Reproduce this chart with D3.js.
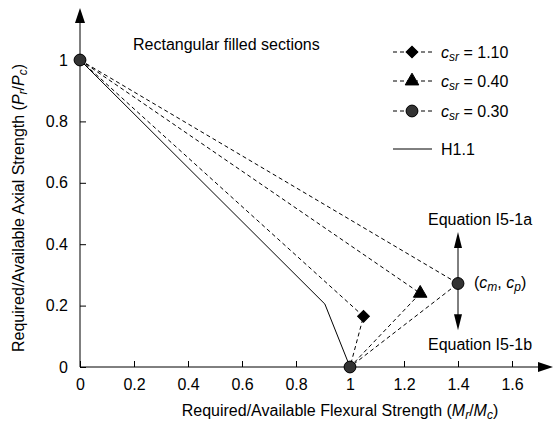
<!DOCTYPE html>
<html><head><meta charset="utf-8">
<script src="https://cdn.jsdelivr.net/npm/d3@7"></script>
<style>body{margin:0;background:#fff}text{font-family:"Liberation Sans",Arial,sans-serif;fill:#000}</style>
</head><body><svg id="chart" width="557" height="430"></svg>
<script>
var xTicks = [0, 0.2, 0.4, 0.6, 0.8, 1, 1.2, 1.4, 1.6];
var yTicks = [0, 0.2, 0.4, 0.6, 0.8, 1];
var origin = [0, 1];
var endPt = [1, 0];
var seriesNames = ["1.10", "0.40", "0.30"];
var seriesPts = [[1.05, 0.165], [1.26, 0.24], [1.40, 0.272]];
var seriesShapes = [d3.symbolSquare, d3.symbolTriangle, d3.symbolCircle];
var h11 = [[0, 1], [0.907, 0.205], [1, 0]];

var svg = d3.select("#chart");
var x = d3.scaleLinear().domain([0, 1]).range([80, 350]);
var y = d3.scaleLinear().domain([0, 1]).range([367, 60]);
var fs = 16, sub = 12;

// axes
var xa = svg.append("g").attr("transform", "translate(0,367)")
  .call(d3.axisBottom(x).tickValues(xTicks).tickSize(-6).tickPadding(12).tickFormat(d => d));
var ya = svg.append("g").attr("transform", "translate(80,0)")
  .call(d3.axisLeft(y).tickValues(yTicks).tickSize(-6).tickPadding(12).tickFormat(d => d));
[xa, ya].forEach(a => { a.select(".domain").remove(); a.selectAll("text").attr("font-size", fs).style("font-family", "Liberation Sans, Arial"); });
svg.append("line").attr("x1", 80).attr("x2", 545).attr("y1", 367).attr("y2", 367).attr("stroke", "#000");
svg.append("line").attr("x1", 80).attr("x2", 80).attr("y1", 367).attr("y2", 16).attr("stroke", "#000");
svg.append("path").attr("d", "M553,367 L538,362 L538,372 Z");
svg.append("path").attr("d", "M80,8 L75,23 L85,23 Z");

var line = d3.line().x(d => x(d[0])).y(d => y(d[1]));
svg.append("path").attr("d", line(h11)).attr("fill", "none").attr("stroke", "#000");
seriesPts.forEach(p => {
  svg.append("path").attr("d", line([origin, p, endPt])).attr("fill", "none")
    .attr("stroke", "#000").attr("stroke-dasharray", "4,3");
});
// arrows at c point
var cp = seriesPts[2];
svg.append("line").attr("x1", x(cp[0])).attr("x2", x(cp[0])).attr("y1", y(0.44) + 12).attr("y2", y(0.12) - 12).attr("stroke", "#000");
svg.append("path").attr("d", `M${x(cp[0])},${y(0.44)} l-4,16 l8,0 Z`);
svg.append("path").attr("d", `M${x(cp[0])},${y(0.12)} l-4,-16 l8,0 Z`);

var sizes = [70, 80, 110];
function marker(g, i, px, py) {
  g.append("path").attr("d", d3.symbol().type(seriesShapes[i]).size(sizes[i])())
    .attr("transform", `translate(${px},${py})` + (i == 0 ? " rotate(45)" : ""))
    .attr("fill", i == 2 ? "#333" : "#000").attr("stroke", "#000");
}
seriesPts.forEach((p, i) => marker(svg, i, x(p[0]), y(p[1])));
marker(svg, 2, x(origin[0]), y(origin[1]));
marker(svg, 2, x(endPt[0]), y(endPt[1]));

// texts
svg.append("text").attr("x", 133).attr("y", 50).attr("font-size", fs).text("Rectangular filled sections");
svg.append("text").attr("x", 428).attr("y", 225).attr("font-size", fs).text("Equation I5-1a");
svg.append("text").attr("x", 428).attr("y", 350).attr("font-size", fs).text("Equation I5-1b");
var cm = svg.append("text").attr("x", 474).attr("y", 288).attr("font-size", fs);
cm.append("tspan").text("(");
cm.append("tspan").attr("font-style", "italic").text("c");
cm.append("tspan").attr("font-style", "italic").attr("font-size", sub).attr("dy", 3).text("m");
cm.append("tspan").attr("dy", -3).text(", ");
cm.append("tspan").attr("font-style", "italic").text("c");
cm.append("tspan").attr("font-style", "italic").attr("font-size", sub).attr("dy", 3).text("p");
cm.append("tspan").attr("dy", -3).text(")");

// legend
var legY = [52, 81, 111];
seriesNames.forEach((n, i) => {
  svg.append("line").attr("x1", 393).attr("x2", 432).attr("y1", legY[i]).attr("y2", legY[i]).attr("stroke", "#000").attr("stroke-dasharray", "4,3");
  marker(svg, i, 412, legY[i]);
  var t = svg.append("text").attr("x", 441).attr("y", legY[i] + 6).attr("font-size", fs);
  t.append("tspan").attr("font-style", "italic").text("c");
  t.append("tspan").attr("font-style", "italic").attr("font-size", sub).attr("dy", 3).text("sr");
  t.append("tspan").attr("dy", -3).text(" = " + n);
});
svg.append("line").attr("x1", 393).attr("x2", 432).attr("y1", 149).attr("y2", 149).attr("stroke", "#000");
svg.append("text").attr("x", 441).attr("y", 155).attr("font-size", fs).text("H1.1");

// axis titles
var xl = svg.append("text").attr("x", 340).attr("y", 416).attr("text-anchor", "middle").attr("font-size", fs);
xl.append("tspan").text("Required/Available Flexural Strength (");
xl.append("tspan").attr("font-style", "italic").text("M");
xl.append("tspan").attr("font-style", "italic").attr("font-size", sub).attr("dy", 3).text("r");
xl.append("tspan").attr("dy", -3).text("/");
xl.append("tspan").attr("font-style", "italic").text("M");
xl.append("tspan").attr("font-style", "italic").attr("font-size", sub).attr("dy", 3).text("c");
xl.append("tspan").attr("dy", -3).text(")");
var yl = svg.append("text").attr("transform", "translate(24,208) rotate(-90)").attr("text-anchor", "middle").attr("font-size", fs);
yl.append("tspan").text("Required/Available Axial Strength (");
yl.append("tspan").attr("font-style", "italic").text("P");
yl.append("tspan").attr("font-style", "italic").attr("font-size", sub).attr("dy", 3).text("r");
yl.append("tspan").attr("dy", -3).text("/");
yl.append("tspan").attr("font-style", "italic").text("P");
yl.append("tspan").attr("font-style", "italic").attr("font-size", sub).attr("dy", 3).text("c");
yl.append("tspan").attr("dy", -3).text(")");
</script></body></html>
